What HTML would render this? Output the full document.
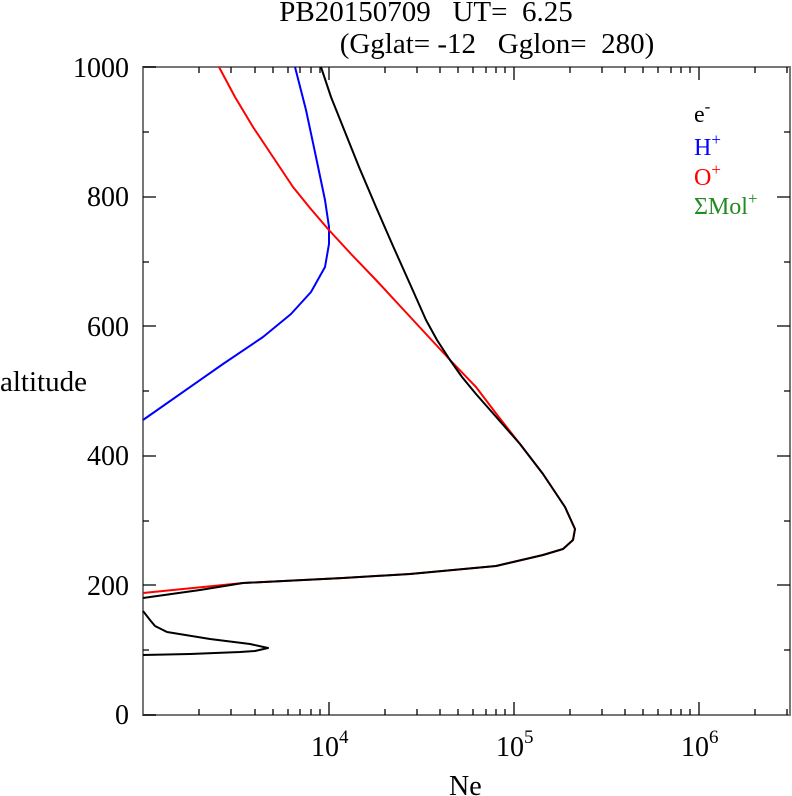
<!DOCTYPE html>
<html><head><style>body{margin:0;background:#fff}svg{display:block}text{font-family:"Liberation Serif",serif;fill:#000}</style></head>
<body>
<svg width="792" height="796" xmlns="http://www.w3.org/2000/svg">
<text x="426" y="21" font-size="29" text-anchor="middle" xml:space="preserve">PB20150709   UT=  6.25</text>
<text x="497" y="53" font-size="29" text-anchor="middle" xml:space="preserve">(Gglat= -12   Gglon=  280)</text>
<rect x="143" y="67" width="647" height="648" fill="none" stroke="#777" stroke-width="2"/>
<g stroke="#000" stroke-width="1.3">
<path d="M143 715h13M143 585h13M143 456h13M143 326h13M143 197h13M143 67h13 M143 650h6M143 521h6M143 391h6M143 262h6M143 132h6
M790 585h-13M790 456h-13M790 326h-13M790 197h-13 M790 650h-6M790 521h-6M790 391h-6M790 262h-6M790 132h-6"/>
<path d="M329 715v-13M514 715v-13M699 715v-13M329 67v13M514 67v13M699 67v13
M199 715v-6M231 715v-6M255 715v-6M273 715v-6M288 715v-6M300 715v-6M311 715v-6M320 715v-6
M385 715v-6M417 715v-6M440 715v-6M458 715v-6M473 715v-6M486 715v-6M496 715v-6M505 715v-6
M570 715v-6M602 715v-6M625 715v-6M643 715v-6M658 715v-6M671 715v-6M681 715v-6M690 715v-6
M755 715v-6M787 715v-6
M199 67v6M231 67v6M255 67v6M273 67v6M288 67v6M300 67v6M311 67v6M320 67v6
M385 67v6M417 67v6M440 67v6M458 67v6M473 67v6M486 67v6M496 67v6M505 67v6
M570 67v6M602 67v6M625 67v6M643 67v6M658 67v6M671 67v6M681 67v6M690 67v6
M755 67v6M787 67v6"/>
</g>
<g font-size="28" text-anchor="end">
<text x="129" y="724">0</text><text x="129" y="595">200</text><text x="129" y="465">400</text>
<text x="129" y="336">600</text><text x="129" y="206">800</text><text x="129" y="77">1000</text>
</g>
<g font-size="28">
<text x="311" y="756">10<tspan dy="-13" font-size="19">4</tspan></text>
<text x="496" y="756">10<tspan dy="-13" font-size="19">5</tspan></text>
<text x="681" y="756">10<tspan dy="-13" font-size="19">6</tspan></text>
<text x="0" y="391" font-size="29">altitude</text>
<text x="449" y="795">Ne</text>
</g>
<g fill="none" stroke-width="2" stroke-linejoin="round">
<polyline stroke="#00f" points="295,67 306,110 316,157 325,200 329,227 329,244 325,267 311,292 291,314 263,337 223,364 143,420"/>
<polyline stroke="#f00" points="219,67 235,97 253,127 273,157 293,187 310,208 328,229 352,255 376,280 401,307 426,334 451,361 476,387 498,416 520,444 543,474 565,507 575,529 573,540 563,549 543,555 496,566 410,574 343,578 243,583 143,593"/>
<polyline stroke="#000" points="321,67 331,97 343,127 359,167 376,207 393,246 410,284 426,320 437,340 450,360 462,377 476,394 498,419 520,444 543,474 565,507 575,529 573,540 563,549 543,555 496,566 410,574 343,578 243,583 200,590 143,598"/>
<polyline stroke="#000" points="143,611 150,620 155,626 167,632 210,639 250,644 268,648 255,651 240,652 190,654 143,655"/>
</g>
<g font-size="24">
<text x="694" y="122">e<tspan dy="-10" font-size="17">-</tspan></text>
<text x="694" y="155" style="fill:#00f">H<tspan dy="-10" font-size="17" style="fill:#00f">+</tspan></text>
<text x="694" y="185" style="fill:#f00">O<tspan dy="-10" font-size="17" style="fill:#f00">+</tspan></text>
<text x="694" y="214" style="fill:#228b22">ΣMol<tspan dy="-10" font-size="17" style="fill:#228b22">+</tspan></text>
</g>
</svg>
</body></html>
